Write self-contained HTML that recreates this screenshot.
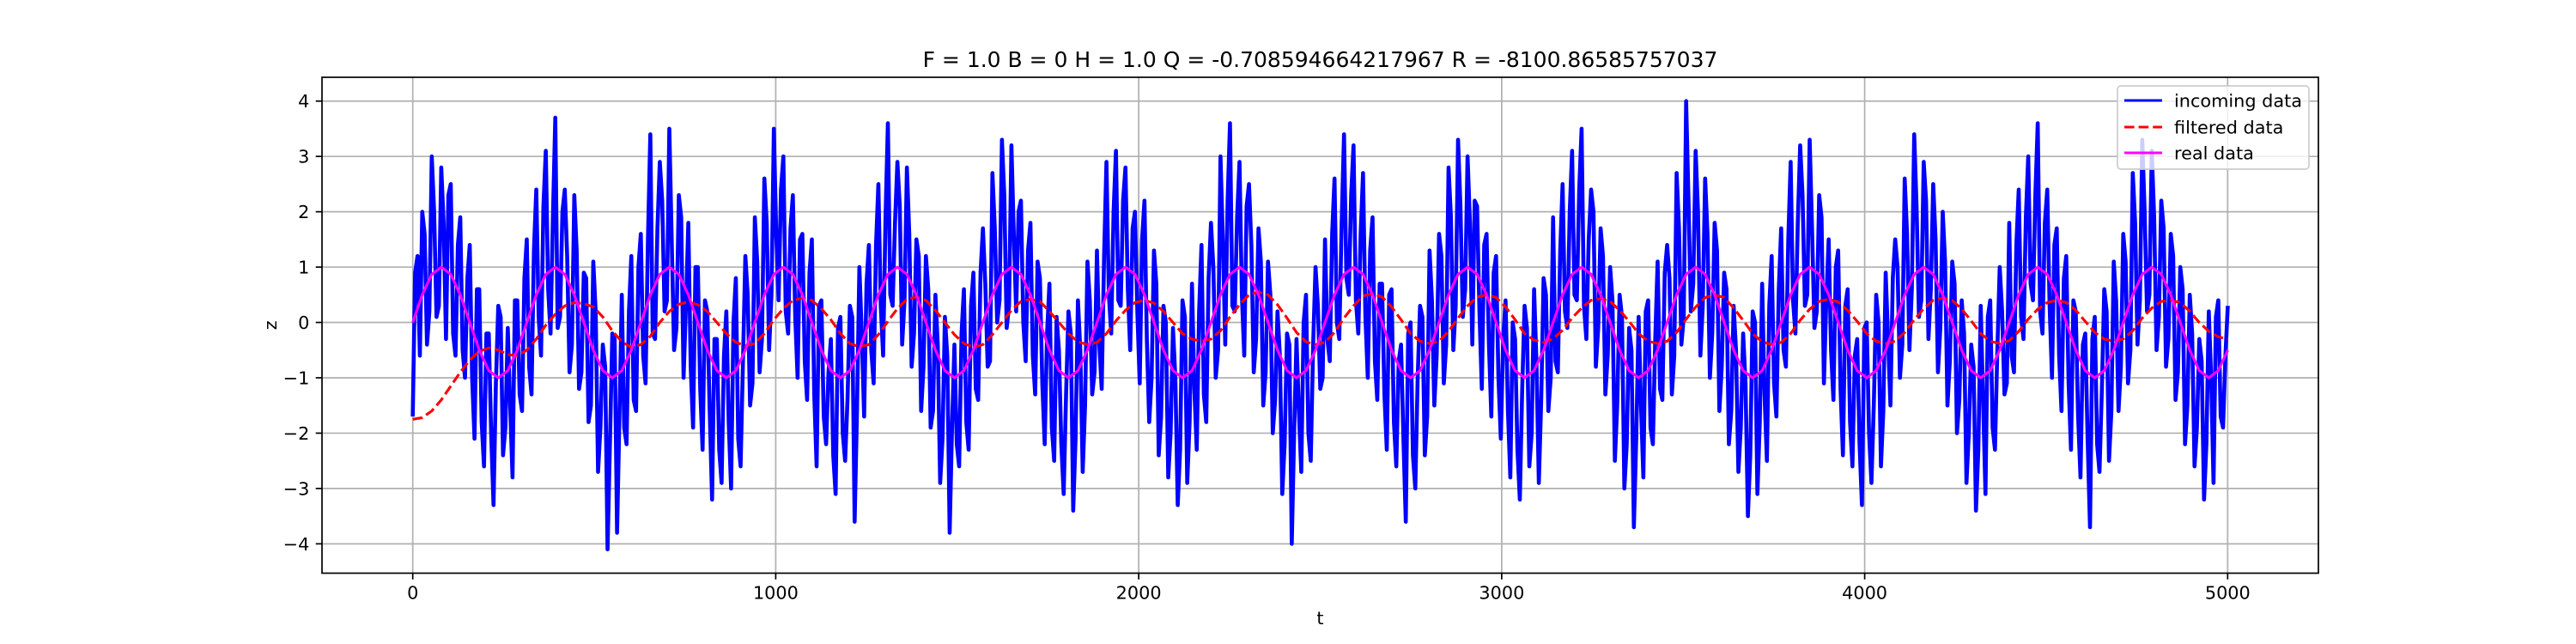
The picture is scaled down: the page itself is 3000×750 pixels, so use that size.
<!DOCTYPE html>
<html><head><meta charset="utf-8"><style>
html,body{margin:0;padding:0;background:#fff;}
svg{display:block;font-family:"DejaVu Sans","Liberation Sans",sans-serif;}
</style></head><body>
<svg id="chart" width="3000" height="750" viewBox="0 0 3000 750" xmlns="http://www.w3.org/2000/svg">
<defs><clipPath id="clip"><rect x="375" y="90" width="2325" height="577.5"/></clipPath></defs>
<rect x="0" y="0" width="3000" height="750" fill="#fff"/>
<text x="1537.5" y="78" font-size="25" text-anchor="middle" fill="#000">F = 1.0 B = 0 H = 1.0 Q = -0.708594664217967 R = -8100.86585757037</text>
<g id="grid"></g>
<g id="series" clip-path="url(#clip)"></g>
<rect x="375" y="90" width="2325" height="577.5" fill="none" stroke="#000" stroke-width="1.7"/>
<g id="ticks"></g>
<text x="1537.5" y="727" font-size="20.8" text-anchor="middle">t</text>
<text transform="translate(322,378.8) rotate(-90)" font-size="20.8" text-anchor="middle">z</text>
<g>
<rect x="2466" y="100" width="223" height="97" rx="4" fill="#fff" fill-opacity="0.8" stroke="#ccc" stroke-width="1.7"/>
<line x1="2474" y1="117" x2="2518" y2="117" stroke="#0000ff" stroke-width="3.1"/>
<text x="2532" y="124.5" font-size="20.8">incoming data</text>
<line x1="2474" y1="148" x2="2518" y2="148" stroke="#ff0000" stroke-width="3.1" stroke-dasharray="11.6,5"/>
<text x="2532" y="155.5" font-size="20.8">filtered data</text>
<line x1="2474" y1="178" x2="2518" y2="178" stroke="#ff00ff" stroke-width="3.1"/>
<text x="2532" y="185.5" font-size="20.8">real data</text>
</g>
</svg>
<script>
const xTicks = [0, 1000, 2000, 3000, 4000, 5000];
const yTicks = [-4, -3, -2, -1, 0, 1, 2, 3, 4];
const xDomain = [-250, 5250];
const yDomain = [-4.53, 4.43];
const incomingDt = 6.545;
const realDt = 26.18;
const incomingEven = [
-1.7,1.2,2.0,-0.4,3.0,0.1,2.8,-0.3,2.5,-0.6,1.9,-1.0,1.4,-2.1,0.6,-2.6,-0.2,-3.3,0.3,-2.4,-0.1,-2.8,0.4,-1.6,
1.5,-1.3,2.4,-0.6,3.1,-0.2,3.7,0.1,2.4,-0.9,2.3,-1.2,0.9,-1.8,1.1,-2.7,-0.4,-4.1,-0.2,-3.8,0.5,-2.2,1.2,-1.6,
1.6,-1.1,3.4,-0.3,2.9,0.2,3.5,-0.5,2.3,-1.0,1.8,-1.9,1.0,-2.3,0.2,-3.2,-0.3,-2.9,0.2,-3.0,0.8,-2.6,1.2,-1.5,
1.9,-0.9,2.6,-0.5,3.5,0.4,3.0,-0.2,2.3,-1.0,1.6,-1.4,1.5,-2.6,0.4,-2.2,-0.3,-3.1,0.1,-2.5,0.3,-3.6,1.0,-1.7,
1.4,-1.1,2.5,-0.6,3.6,0.3,2.9,-0.4,2.8,-0.8,1.5,-1.6,1.2,-1.9,0.5,-2.9,0.1,-3.8,-0.4,-2.6,0.6,-2.3,0.9,-1.4,
1.7,-0.8,2.7,0.0,3.3,-0.1,3.2,0.2,2.2,-0.7,1.8,-1.3,0.8,-2.2,0.7,-2.5,-0.5,-3.1,0.2,-3.4,0.4,-2.7,1.1,-1.3,
1.3,-1.2,2.9,-0.2,3.1,0.3,2.8,-0.5,2.0,-1.1,2.2,-1.8,1.3,-2.4,0.3,-2.8,-0.1,-3.3,0.4,-2.9,0.7,-2.3,1.4,-1.8,
1.8,-1.0,3.0,-0.4,3.6,0.2,2.9,-0.6,2.5,-0.9,1.7,-1.5,1.1,-2.0,0.2,-3.1,-0.2,-4.0,-0.3,-2.7,0.5,-2.5,1.0,-1.2,
1.5,-0.7,2.6,-0.3,3.4,0.5,3.2,-0.2,2.7,-1.0,1.9,-1.4,0.7,-2.3,0.6,-2.6,-0.4,-3.6,0.0,-3.0,0.3,-2.4,1.3,-1.5,
1.6,-1.1,2.8,-0.5,3.3,0.1,3.0,-0.4,2.1,-1.2,1.6,-1.7,1.2,-2.1,0.4,-2.8,-0.3,-3.2,0.3,-2.6,0.6,-2.9,0.8,-1.6,
1.9,-0.9,2.5,-0.1,3.1,0.4,3.5,-0.3,2.4,-0.8,1.7,-1.3,1.0,-2.5,0.5,-3.0,-0.1,-3.7,0.1,-2.8,0.4,-2.2,1.1,-1.4,
1.4,-1.3,2.7,-0.4,4.0,0.2,3.1,-0.6,2.6,-1.0,1.8,-1.6,0.9,-2.2,0.3,-2.7,-0.2,-3.5,0.2,-3.1,0.7,-2.5,1.2,-1.7,
1.7,-0.8,2.9,-0.2,3.2,0.3,3.3,-0.1,2.3,-1.1,1.5,-1.4,1.3,-2.4,0.6,-2.6,-0.3,-3.3,0.0,-2.9,0.5,-2.6,0.9,-1.5,
1.5,-1.0,2.6,-0.5,3.4,0.1,2.9,-0.3,2.5,-0.9,2.0,-1.5,1.1,-2.0,0.4,-2.9,-0.4,-3.4,0.3,-3.1,0.4,-2.3,1.0,-1.3,
1.8,-0.9,2.4,-0.3,3.0,0.4,3.6,-0.2,2.4,-1.0,1.7,-1.6,1.2,-2.3,0.2,-2.8,-0.2,-3.7,0.1,-2.7,0.6,-2.5,1.1,-1.6,
1.6,-1.1,2.7,-0.4,3.3,0.2,3.1,-0.5,2.2,-0.8,1.6,-1.4,1.0,-2.2,0.5,-2.6,-0.3,-3.2,0.2,-2.9,0.4,-1.9,0.3
];
const incomingOdd = [
0.9,-0.6,1.6,0.2,2.0,0.3,1.8,2.3,-0.2,1.4,-0.5,0.8,-1.0,0.6,-1.8,-0.2,-2.0,-1.1,0.1,-1.9,-1.5,0.4,-1.3,0.8,
-0.8,1.3,0.1,2.1,0.6,1.9,-0.1,2.0,1.2,-0.4,1.3,-0.9,0.8,-1.5,0.2,-1.9,-0.8,-2.2,-0.3,-1.7,-1.9,0.2,-1.4,1.0,
-0.6,1.5,-0.2,1.7,2.2,0.4,1.5,-0.1,1.9,0.3,-0.8,1.0,-1.2,0.4,-1.6,-0.3,-2.3,-0.6,-1.8,0.0,-2.1,-0.7,0.5,-1.1,
1.1,-0.3,1.8,0.5,1.6,2.4,0.2,1.7,0.1,1.5,-0.7,0.9,-1.3,0.3,-1.7,-0.9,-2.4,-0.1,-2.0,-1.4,0.1,-1.6,-0.2,0.7,
-0.5,1.4,0.3,1.9,0.5,1.8,2.1,0.4,1.6,-0.2,1.2,-0.8,0.6,-1.6,-0.4,-2.1,-0.6,-1.9,-2.2,-0.2,-1.8,0.3,-1.2,0.9,
0.7,-0.7,1.7,0.4,2.3,0.3,1.6,2.0,0.0,1.3,-0.6,1.1,-1.1,-0.2,-1.9,0.1,-2.2,-1.3,-0.2,-2.1,-0.5,-1.5,0.4,-0.9,
-0.4,1.2,0.5,2.0,0.4,2.2,0.6,1.7,0.2,1.5,-0.3,-1.0,0.7,-1.7,0.0,-2.0,-1.0,-2.3,0.1,-1.8,-1.2,0.2,-1.3,0.8,
1.0,-0.5,1.5,2.2,0.3,1.9,0.5,2.1,1.4,-0.3,1.1,-0.9,0.5,-1.4,-0.6,-2.2,-0.4,-2.0,-1.6,0.0,-2.0,-0.4,0.3,-1.0,
-0.3,1.6,0.0,1.8,0.8,2.3,0.4,1.6,0.1,1.3,-0.7,0.7,-1.3,0.5,-1.8,-0.7,-2.1,-0.2,-2.4,-1.0,0.1,-1.7,0.4,-0.6,
1.2,-0.4,1.9,0.3,2.1,0.6,1.8,2.2,0.2,1.4,-0.4,0.9,-1.0,-0.3,-1.6,0.0,-2.3,-1.2,-0.1,-2.0,-0.7,-1.4,0.5,-1.0,
-0.7,1.3,0.2,2.0,0.5,2.4,0.3,1.5,2.0,-0.1,1.2,-0.6,0.4,-1.5,0.1,-2.2,-0.5,-2.1,-1.5,0.2,-1.9,-0.3,-1.2,0.9,
0.8,-0.6,1.7,0.1,2.2,0.7,2.0,0.3,1.6,-0.2,1.3,-0.8,0.6,-1.6,-0.5,-1.9,-1.1,-2.4,0.0,-1.8,-1.3,0.3,-1.1,0.6,
-0.5,1.5,0.4,1.8,2.3,0.5,1.7,0.2,1.9,0.4,-0.5,1.0,-1.2,0.3,-1.8,-0.6,-2.2,-0.1,-2.0,-1.5,0.0,-1.6,-0.3,0.8,
1.0,-0.4,1.6,0.6,2.1,0.4,2.2,0.6,1.5,-0.1,1.1,-0.7,0.7,-1.4,-0.2,-2.0,-0.8,-2.3,-1.4,0.1,-1.9,-0.5,0.2,-1.1,
-0.6,1.4,0.1,1.9,0.7,2.3,0.2,1.8,0.3,1.4,-0.6,0.8,-1.1,0.4,-1.7,-0.4,-2.1,-0.3,-2.2,-1.2,0.2,-1.6,0.4,-0.8,
1.1,-0.5,1.8,0.4,2.0,0.5,1.9,0.1,1.7,-0.3,1.2,-0.9,0.6,-1.5,-0.2,-1.9,-0.7,-2.2,-1.0,0.1,-1.7,-0.6
];
const filtered = [
-1.75,-1.72,-1.6,-1.4,-1.15,-0.9,-0.68,-0.52,-0.46,-0.5,-0.58,-0.6,
-0.5,-0.3,-0.05,0.15,0.3,0.36,0.34,0.28,0.1,-0.15,-0.35,-0.45,
-0.4,-0.25,0.0,0.2,0.33,0.37,0.32,0.2,0.0,-0.2,-0.36,-0.42,
-0.38,-0.2,0.05,0.25,0.4,0.44,0.4,0.25,0.05,-0.2,-0.38,-0.44,
-0.4,-0.22,0.02,0.25,0.42,0.46,0.4,0.22,0.0,-0.22,-0.38,-0.45,
-0.4,-0.22,0.0,0.22,0.38,0.42,0.38,0.2,0.0,-0.2,-0.35,-0.4,
-0.36,-0.2,0.03,0.22,0.36,0.4,0.35,0.2,0.0,-0.2,-0.3,-0.34,
-0.3,-0.15,0.1,0.32,0.5,0.55,0.5,0.32,0.08,-0.18,-0.35,-0.4,
-0.36,-0.18,0.08,0.3,0.48,0.52,0.46,0.28,0.05,-0.2,-0.34,-0.38,
-0.34,-0.16,0.08,0.3,0.46,0.5,0.45,0.28,0.05,-0.2,-0.32,-0.36,
-0.3,-0.14,0.08,0.26,0.4,0.43,0.38,0.22,0.02,-0.2,-0.34,-0.38,
-0.34,-0.18,0.06,0.28,0.45,0.5,0.45,0.26,0.04,-0.2,-0.35,-0.4,
-0.36,-0.2,0.04,0.24,0.38,0.42,0.37,0.22,0.02,-0.2,-0.34,-0.38,
-0.34,-0.18,0.05,0.25,0.4,0.44,0.4,0.24,0.03,-0.2,-0.34,-0.38,
-0.33,-0.16,0.06,0.24,0.36,0.4,0.36,0.22,0.02,-0.18,-0.3,-0.34,
-0.3,-0.15,0.08,0.26,0.38,0.4,0.36,0.2,0.0,-0.16,-0.26,-0.3
];
const realPeriod = [0,0.5,0.87,1,0.87,0.5,0,-0.5,-0.87,-1,-0.87,-0.5];
const real = [];
for (let k = 0; k < 16; k++) { for (const v of realPeriod) real.push(v); }
const incoming = [];
for (let i = 0; i < incomingEven.length; i++) {
  incoming.push(incomingEven[i]);
  if (i < incomingOdd.length) incoming.push(incomingOdd[i]);
}

const NS = 'http://www.w3.org/2000/svg';
const L = 375, R = 2700, T = 90, B = 667.5;
function xs(t) { return L + (t - xDomain[0]) / (xDomain[1] - xDomain[0]) * (R - L); }
function ys(v) { return B - (v - yDomain[0]) / (yDomain[1] - yDomain[0]) * (B - T); }
function mk(tag, attrs, parent) {
  const e = document.createElementNS(NS, tag);
  for (const k in attrs) e.setAttribute(k, attrs[k]);
  parent.appendChild(e);
  return e;
}
const grid = document.getElementById('grid');
const ticks = document.getElementById('ticks');
const series = document.getElementById('series');
xTicks.forEach(t => {
  const g = mk('line', {x1: xs(t), x2: xs(t), y1: T, y2: B, stroke: '#b0b0b0', 'stroke-width': 1.7}, grid);
  
  
  const tk = mk('line', {x1: xs(t), x2: xs(t), y1: B, y2: B + 7.3, stroke: '#000', 'stroke-width': 1.7}, ticks);
  
  
  const lb = mk('text', {x: xs(t), y: B + 30, 'font-size': 20.8, 'text-anchor': 'middle'}, ticks);
  lb.textContent = String(t);
  
  
});
yTicks.forEach(v => {
  const g = mk('line', {x1: L, x2: R, y1: ys(v), y2: ys(v), stroke: '#b0b0b0', 'stroke-width': 1.7}, grid);
  
  
  const tk = mk('line', {x1: L - 7.3, x2: L, y1: ys(v), y2: ys(v), stroke: '#000', 'stroke-width': 1.7}, ticks);
  
  
  const lb = mk('text', {x: L - 14.6, y: ys(v) + 7.5, 'font-size': 20.8, 'text-anchor': 'end'}, ticks);
  lb.textContent = v < 0 ? '\u2212' + Math.abs(v) : String(v);
  
  
});
function pts(arr, dt) { return arr.map((v, i) => xs(i * dt).toFixed(2) + ',' + ys(v).toFixed(2)).join(' '); }
const p1 = mk('polyline', {points: pts(incoming, incomingDt), fill: 'none', stroke: '#0000ff', 'stroke-width': 4.6, 'stroke-linejoin': 'round'}, series);


const p2 = mk('polyline', {points: pts(filtered, realDt), fill: 'none', stroke: '#ff0000', 'stroke-width': 3.1, 'stroke-dasharray': '11.6,5'}, series);


const p3 = mk('polyline', {points: pts(real, realDt), fill: 'none', stroke: '#ff00ff', 'stroke-width': 3.1, 'stroke-linejoin': 'round'}, series);


</script>
</body></html>
